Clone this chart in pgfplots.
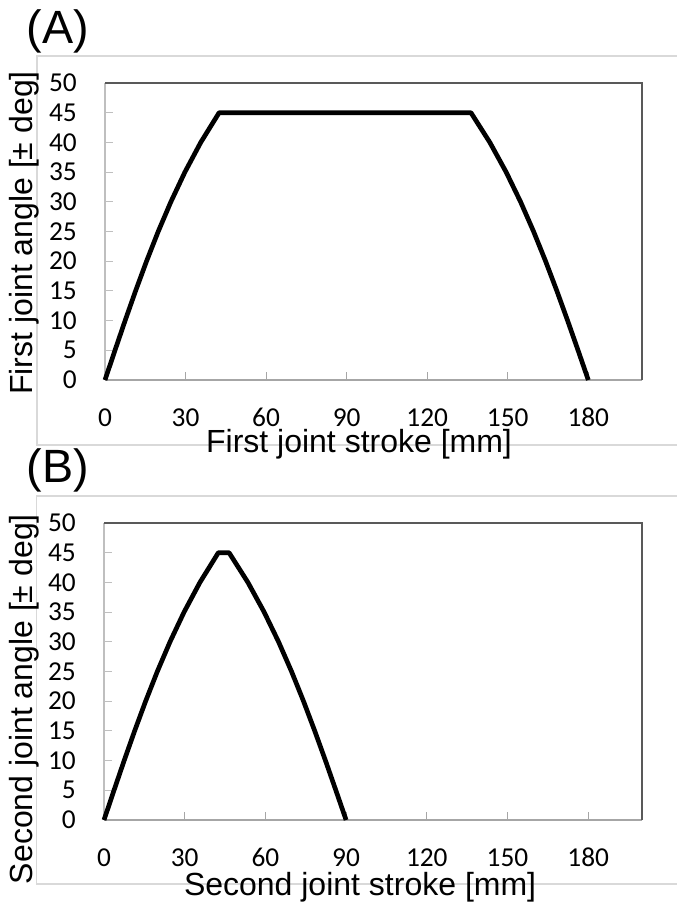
\documentclass[border=0pt]{standalone}
\usepackage{pgfplots}
\pgfplotsset{compat=1.18}
\usepackage{fontspec}
\setmainfont{Liberation Sans}
\newfontfamily\carlito[Numbers=Lining]{Carlito}
\definecolor{frameg}{HTML}{D9D9D9}
\definecolor{yaxg}{HTML}{BFBFBF}
\definecolor{xaxg}{HTML}{A6A6A6}
\definecolor{boxg}{HTML}{595959}
\pgfplotsset{
  myax/.style={
    scale only axis,
    height=222.75pt,
    xmin=0, xmax=200, ymin=0, ymax=50,
    axis x line*=bottom, axis y line*=left,
    x axis line style={xaxg, line width=0.9pt, -},
    y axis line style={yaxg, line width=0.9pt, -},
    xtick={0,30,60,90,120,150,180},
    ytick={0,5,10,15,20,25,30,35,40,45,50},
    tick align=inside,
    major tick length=6pt,
    x tick style={xaxg, line width=0.8pt},
    y tick style={yaxg, line width=0.8pt},
    /pgf/number format/assume math mode=true,
    tick label style={font=\fontsize{20.5}{23}\selectfont\carlito, inner sep=0pt},
    xticklabel style={anchor=base, yshift=-34.5pt},
    yticklabel style={anchor=east, xshift=-21pt},
    label style={font=\fontsize{24}{28}\selectfont},
    clip=false,
  },
}
\begin{document}
\begin{tikzpicture}
\path[use as bounding box] (0,0) rectangle (507.75pt,-679.5pt);
% outer chart frames
\draw[frameg, line width=0.8pt] (515pt,-42pt) -- (27.75pt,-42pt) -- (27.75pt,-333.75pt) -- (515pt,-333.75pt);
\draw[frameg, line width=0.8pt] (515pt,-372pt) -- (27.5pt,-372pt) -- (27.5pt,-663pt) -- (515pt,-663pt);

% Panel A
\begin{axis}[myax, width=402.75pt, at={(78.75pt,-285pt)}, anchor=south west,
  xlabel={First joint stroke [mm]},
  ylabel={First joint angle [± deg]},
  xlabel style={at={(axis description cs:0.473,-0.217)}, anchor=center},
  ylabel style={at={(axis description cs:-0.150,0.495)}, anchor=center},
]
\draw[boxg, line width=0.9pt] (rel axis cs:0,1) -- (rel axis cs:1,1) -- (rel axis cs:1,0);
\addplot[black, line width=3.5pt, line join=round] coordinates {
(0,0) (3.72,5) (7.49,10) (11.39,15) (15.47,20) (19.82,25) (24.54,30) (29.76,35) (35.66,40) (42.5,45)
(136.3,45) (143.33,40) (149.4,35) (154.77,30) (159.62,25) (164.09,20) (168.29,15) (172.29,10) (176.18,5) (180,0)
};
\end{axis}

% Panel B
\begin{axis}[myax, width=403.5pt, at={(78pt,-615pt)}, anchor=south west,
  xlabel={Second joint stroke [mm]},
  ylabel={Second joint angle [± deg]},
  xlabel style={at={(axis description cs:0.476,-0.2276)}, anchor=center},
  ylabel style={at={(axis description cs:-0.148,0.407)}, anchor=center},
]
\draw[boxg, line width=0.9pt] (rel axis cs:0,1) -- (rel axis cs:1,1) -- (rel axis cs:1,0);
\addplot[black, line width=3.5pt, line join=round] coordinates {
(0,0) (3.72,5) (7.49,10) (11.39,15) (15.47,20) (19.82,25) (24.54,30) (29.76,35) (35.66,40) (42.5,45)
(46.5,45) (53.5,40) (59.54,35) (64.89,30) (69.72,25) (74.17,20) (78.34,15) (82.33,10) (86.19,5) (90,0)
};
\end{axis}

\node[font=\fontsize{35}{40}\selectfont, inner sep=0pt] at (43.5pt,-23.25pt) {(A)};
\node[font=\fontsize{35}{40}\selectfont, inner sep=0pt] at (43.5pt,-352.5pt) {(B)};
\end{tikzpicture}
\end{document}
